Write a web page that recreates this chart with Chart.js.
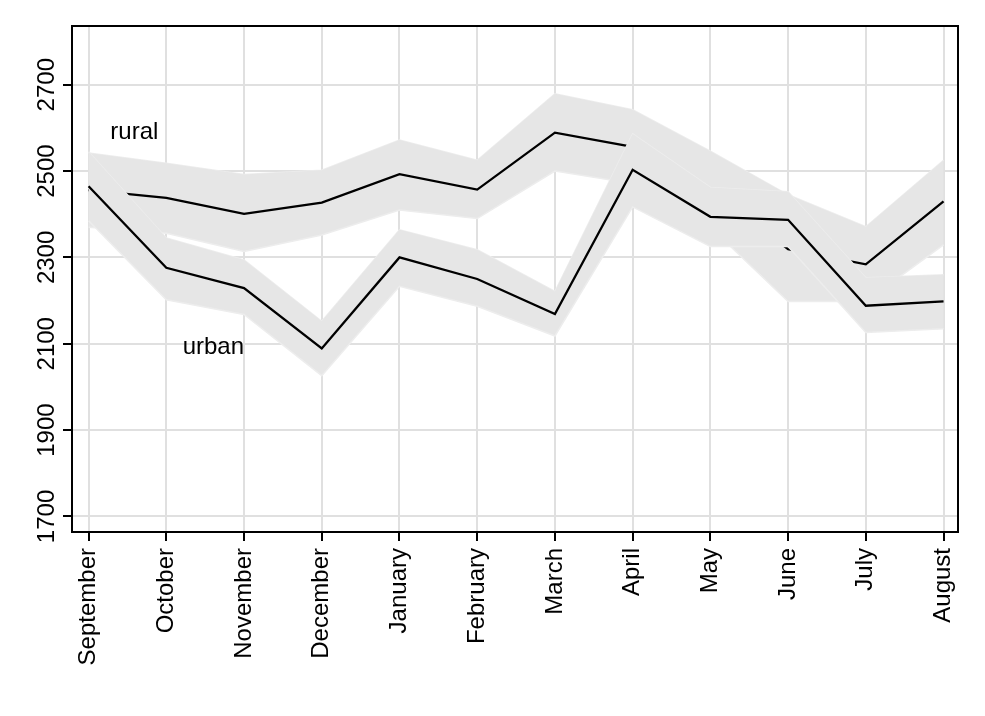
<!DOCTYPE html>
<html>
<head>
<meta charset="utf-8">
<script src="https://cdn.jsdelivr.net/npm/chart.js@4.4.1/dist/chart.umd.min.js"></script>
<style>
  html, body { margin: 0; padding: 0; background: #fff; }
</style>
</head>
<body>
<canvas id="chart" width="985" height="716"></canvas>
<script>
var months = ['September', 'October', 'November', 'December', 'January', 'February',
              'March', 'April', 'May', 'June', 'July', 'August'];
var yTicks = [1700, 1900, 2100, 2300, 2500, 2700];

var rural   = [2456, 2438, 2401, 2427, 2493, 2457, 2589, 2556, 2458, 2319, 2284, 2430];
var ruralLo = [2370, 2356, 2314, 2352, 2410, 2390, 2500, 2471, 2370, 2198, 2198, 2329];
var ruralHi = [2542, 2518, 2492, 2502, 2572, 2525, 2679, 2642, 2546, 2445, 2371, 2525];

var urban   = [2465, 2276, 2229, 2089, 2300, 2250, 2169, 2503, 2394, 2387, 2188, 2198];
var urbanLo = [2385, 2202, 2168, 2026, 2233, 2187, 2118, 2417, 2325, 2325, 2126, 2135];
var urbanHi = [2545, 2345, 2294, 2152, 2364, 2318, 2221, 2586, 2462, 2452, 2253, 2260];

// where the group names sit (x index, y value at text baseline)
var ruralLabel = [0.28, 2574];
var urbanLabel = [1.21, 2076];

var FONT = '"Liberation Sans", Arial, sans-serif';
var bandFill = '#e6e6e6';
var bandEdge = '#ededed';

function pts(arr) {
    return arr.map(function (v, i) { return { x: i, y: v }; });
}

function line(data, order) {
    return { data: pts(data), borderColor: '#000', borderWidth: 2.3, pointRadius: 0,
             fill: false, order: order, tension: 0 };
}

function edge(data, order, fill) {
    return { data: pts(data), borderColor: bandEdge, borderWidth: 1.5, pointRadius: 0,
             backgroundColor: bandFill, fill: fill, order: order, tension: 0 };
}

var frameAndText = {
    id: 'frameAndText',
    afterDatasetsDraw: function (chart) {
        var ctx = chart.ctx, xs = chart.scales.x, ys = chart.scales.y, a = chart.chartArea;
        ctx.save();
        ctx.font = '24px ' + FONT;
        ctx.fillStyle = '#000';
        ctx.textBaseline = 'alphabetic';
        ctx.textAlign = 'left';
        ctx.fillText('rural', xs.getPixelForValue(ruralLabel[0]), ys.getPixelForValue(ruralLabel[1]));
        ctx.fillText('urban', xs.getPixelForValue(urbanLabel[0]), ys.getPixelForValue(urbanLabel[1]));
        ctx.strokeStyle = '#000';
        ctx.lineWidth = 2;
        ctx.strokeRect(a.left, a.top, a.right - a.left, a.bottom - a.top);
        ctx.restore();
    }
};

var gridOpts = { color: '#e0e0e0', lineWidth: 2, tickColor: '#000', tickWidth: 2, tickLength: 9 };

new Chart(document.getElementById('chart').getContext('2d'), {
    type: 'line',
    data: {
        datasets: [
            line(urban, 0),
            edge(urbanHi, 2, false),
            edge(urbanLo, 1, '-1'),
            line(rural, 3),
            edge(ruralHi, 5, false),
            edge(ruralLo, 4, '-1')
        ]
    },
    options: {
        responsive: false,
        animation: false,
        devicePixelRatio: 1,
        layout: { padding: { top: 26, right: 27, left: 0, bottom: 0 } },
        plugins: { legend: { display: false }, tooltip: { enabled: false } },
        scales: {
            x: {
                type: 'linear',
                min: -0.2135,
                max: 11.186,
                afterBuildTicks: function (s) {
                    s.ticks = months.map(function (m, i) { return { value: i }; });
                },
                afterFit: function (s) { s.height = 184; },
                ticks: {
                    autoSkip: false,
                    minRotation: 90,
                    maxRotation: 90,
                    padding: 7,
                    color: '#000',
                    font: { family: FONT, size: 24 },
                    callback: function (v) { return months[v]; }
                },
                grid: gridOpts,
                border: { color: '#000', width: 2 }
            },
            y: {
                type: 'linear',
                min: 1664,
                max: 2836,
                afterBuildTicks: function (s) {
                    s.ticks = yTicks.map(function (v) { return { value: v }; });
                },
                afterFit: function (s) { s.width = 72; },
                ticks: {
                    autoSkip: false,
                    minRotation: 90,
                    maxRotation: 90,
                    crossAlign: 'center',
                    padding: -11,
                    color: '#000',
                    font: { family: FONT, size: 24 },
                    callback: function (v) { return String(v); }
                },
                grid: gridOpts,
                border: { color: '#000', width: 2 }
            }
        }
    },
    plugins: [frameAndText]
});
</script>
</body>
</html>
